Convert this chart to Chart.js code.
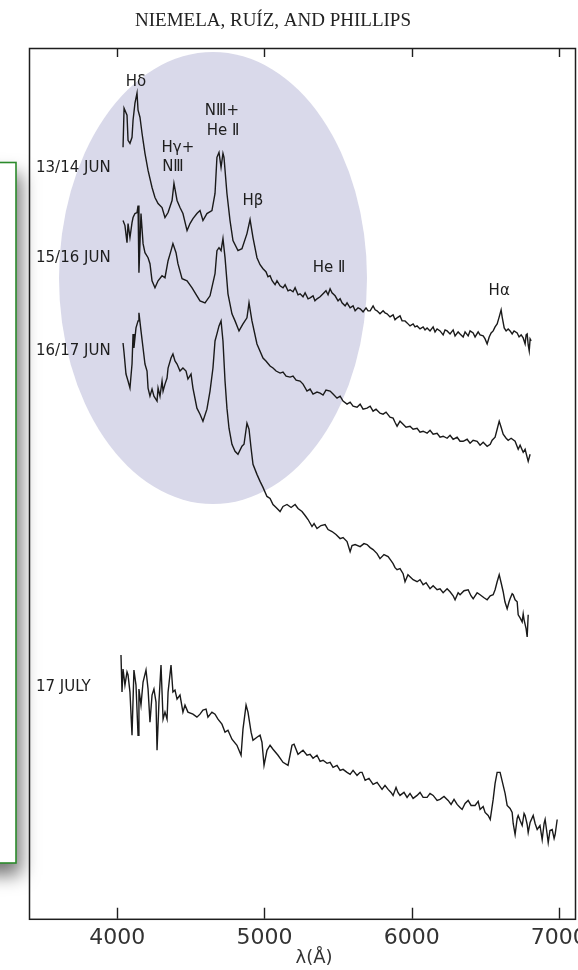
<!DOCTYPE html>
<html><head><meta charset="utf-8">
<script src="https://cdn.jsdelivr.net/npm/chart.js@4.4.1/dist/chart.umd.min.js"></script>
<style>html,body{margin:0;padding:0;background:#fff}#c{display:block}</style>
</head><body>
<canvas id="c" width="578" height="970"></canvas>
<script>
// ---- data (wavelength in Angstrom, flux in arbitrary units incl. vertical offsets) ----
const seriesNames = ["13/14 JUN", "15/16 JUN", "16/17 JUN", "17 JULY"];
const xTicks = [4000, 5000, 6000, 7000];

const lamJun13 = [4039,4046,4066,4073,4086,4100,4107,4120,4134,4141,4154,4168,4175,4188,4209,4236,4256,4277,4304,4324,4345,4372,4385,4406,4426,4446,4474,4494,4514,4541,4562,4582,4609,4643,4664,4677,4691,4705,4718,4725,4745,4766,4786,4820,4847,4881,4902,4922,4949,4970,
4990,5010,5024,5038,5052,5072,5085,5106,5126,5140,5160,5174,5194,5208,5228,5242,5262,5276,5296,5310,5330,5343,5357,5378,5398,5418,5432,5446,5459,5480,5500,5514,5527,5548,5561,5582,5602,5616,5636,5650,5670,5690,5704,5718,5738,5752,5765,5785,5806,5819,5833,5853,5874,5887,5901,5921,5935,5955,5969,5989,6010,6023,6037,6057,6078,6091,6105,6125,6146,6159,6173,6193,6214,6227,6241,6261,6282,6295,6316,6329,6350,6363,6384,6397,6418,6431,6452,6465,6486,6499,6513,6527,6540,6554,6567,6581,6595,6608,6615,6629,6642,6656,6669,6683,6696,6717,6730,6744,6758,6771,6778,6785,6792,6799,6805,6812];
const fluxJun13 = [769,808,801,776,773,779,796,813,823,806,799,783,776,763,746,729,719,713,709,699,704,716,733,716,709,703,686,693,698,703,706,696,703,706,723,759,764,749,763,759,723,696,676,666,668,683,697,679,659,652,
648,645,640,641,636,632,636,631,629,632,626,627,625,629,622,623,620,624,618,619,621,616,618,620,623,626,622,628,624,621,616,618,614,611,614,609,611,606,609,608,605,609,606,606,611,607,606,603,606,604,603,600,602,597,599,601,596,596,594,591,593,590,591,588,590,587,589,586,590,585,588,586,582,587,586,583,587,581,585,583,580,585,581,586,584,580,585,582,581,578,573,580,584,586,590,593,600,607,600,589,586,588,586,583,586,584,580,582,579,573,582,583,572,566,578,576];

const lamJun15 = [4039,4052,4066,4073,4086,4100,4107,4120,4134,4141,4147,4161,4175,4188,4209,4222,4236,4256,4277,4304,4324,4345,4365,4378,4399,4412,4440,4474,4508,4541,4562,4596,4630,4664,4677,4691,4705,4718,4732,4752,4779,4800,4827,4854,4881,4895,4915,4949,
4990,5010,5038,5058,5079,5106,5126,5147,5174,5194,5215,5242,5262,5289,5310,5330,5357,5378,5398,5418,5446,5466,5493,5514,5534,5561,5582,5602,5629,5650,5670,5697,5718,5738,5758,5785,5806,5826,5853,5874,5887,5901,5921,5942,5962,5989,6010,6037,6057,6078,6105,6125,6146,6173,6193,6214,6241,6261,6282,6309,6329,6350,6377,6397,6418,6445,6465,6486,6513,6534,6547,6567,6581,6595,6608,6622,6642,6656,6676,6703,6724,6737,6758,6771,6785,6792,6805];
const fluxJun15 = [696,691,674,693,679,694,699,703,704,711,644,703,673,664,659,653,636,629,636,641,639,656,666,673,664,653,638,636,629,621,616,614,621,643,666,669,666,678,659,623,603,596,586,593,599,614,596,573,
559,556,551,549,546,544,545,541,540,541,537,536,533,526,528,523,525,524,522,527,526,523,519,521,516,513,515,511,510,513,508,509,511,506,508,504,503,505,500,499,495,491,496,493,490,491,488,489,485,486,484,487,483,484,480,481,479,482,478,480,476,476,478,474,477,476,472,475,471,473,477,480,488,496,490,483,479,477,479,476,468,472,465,468,460,456,463];

const lamJun16 = [4039,4046,4059,4073,4086,4100,4107,4113,4127,4141,4147,4161,4175,4188,4202,4209,4222,4236,4249,4270,4277,4290,4304,4311,4324,4338,4345,4365,4378,4392,4406,4426,4446,4467,4480,4501,4514,4541,4562,4582,4609,4630,4650,4664,4677,4691,4705,4718,4732,4745,4759,4779,4800,4820,4847,4861,4881,4895,4909,4922,4949,4970,
4990,5017,5038,5058,5079,5106,5126,5153,5181,5208,5228,5255,5276,5296,5323,5337,5357,5384,5412,5432,5459,5486,5514,5534,5561,5582,5595,5616,5650,5676,5697,5718,5738,5765,5785,5812,5840,5860,5874,5887,5901,5921,5942,5955,5975,5989,6010,6037,6057,6078,6098,6125,6146,6173,6193,6214,6241,6261,6282,6295,6316,6329,6356,6384,6403,6418,6445,6465,6492,6513,6534,6554,6567,6581,6595,6608,6622,6634,6649,6662,6669,6683,6690,6703,6717,6724,6737,6751,6758,6764,6778,6785,6792];
const fluxJun16 = [574,564,543,536,529,553,583,569,589,596,604,586,569,553,546,529,521,528,521,516,529,521,536,526,533,539,549,559,563,556,553,546,549,546,538,543,529,509,503,496,508,526,549,576,583,591,596,576,536,509,489,473,466,463,471,473,494,488,469,453,443,436,
430,421,419,413,410,406,411,413,410,413,409,406,402,398,391,394,389,392,393,388,386,383,379,380,376,366,372,373,371,374,373,370,368,364,359,363,361,357,354,350,348,349,344,336,343,341,338,336,338,333,335,329,332,328,329,325,329,326,322,318,325,323,327,328,322,319,325,323,320,318,322,323,328,336,343,335,326,316,309,316,319,324,323,318,316,303,300,296,304,298,289,281,303];

const lamJul17 = [4025,4032,4039,4052,4066,4073,4086,4100,4113,4127,4141,4147,4161,4175,4195,4209,4222,4236,4249,4263,4270,4283,4297,4311,4324,4338,4345,4365,4378,4392,4406,4426,4446,4460,4480,4514,4541,4562,4582,4603,4616,4643,4664,4684,4711,4732,4752,4779,4813,4841,4854,4875,4888,4909,4922,4949,4970,4983,4997,5017,5038,5058,5092,5126,5160,5187,5201,5228,
5262,5289,5310,5330,5357,5378,5398,5425,5446,5466,5493,5514,5534,5561,5582,5602,5629,5650,5663,5684,5710,5738,5765,5799,5819,5840,5860,5874,5894,5907,5921,5948,5969,5989,6010,6037,6057,6078,6105,6125,6146,6173,6193,6220,6248,6268,6288,6309,6329,6343,6363,6384,6404,6431,6452,6465,6486,6499,6520,6534,6554,6567,6581,6601,6622,6635,6649,6669,6683,6690,6703,6717,6724,6737,6751,6764,6771,6785,6792,6805,6826,6839,6853,6872,6887,6900,6907,6920,6928,6940,6955,6968,6975,6989];
const fluxJul17 = [263,226,249,233,246,243,226,183,248,233,183,229,213,236,248,229,196,223,229,216,168,216,253,199,206,199,226,253,226,228,219,223,206,213,206,204,201,204,208,209,201,206,204,199,194,186,188,179,173,163,189,213,206,186,178,181,183,176,153,168,173,169,163,156,153,173,174,164,
168,163,164,160,163,157,158,155,156,151,153,148,149,146,144,148,143,146,146,138,140,134,136,129,133,129,126,123,131,126,123,126,121,125,120,123,126,121,121,125,123,118,119,122,118,114,119,114,111,109,115,118,113,113,117,109,112,106,103,99,119,135,146,146,133,125,113,110,106,95,84,100,103,98,93,105,103,94,86,96,103,95,89,93,79,95,99,85,76,88,89,80,84,99];

const lamSets = [lamJun13, lamJun15, lamJun16, lamJul17];
const fluxSets = [fluxJun13, fluxJun15, fluxJun16, fluxJul17];

// line identifications (text, wavelength, flux-level)
const lineIds = [
  ["H\u03B4", 4127, 834],
  ["N\u2162+", 4711, 805],
  ["He \u2161", 4718, 785],
  ["H\u03B3+", 4412, 768],
  ["N\u2162", 4378, 749],
  ["H\u03B2", 4922, 715],
  ["He \u2161", 5439, 649],
  ["H\u03B1", 6595, 626]
];
// flux level at which each date label sits
const seriesLabelLevel = [748, 659, 566, 231];

const headerText = "NIEMELA, RU\u00CDZ, AND PHILLIPS";

// ---- drawing ----
const decor = {
  id: 'decor',
  beforeDraw(chart) {
    const c = chart.ctx;
    c.save();
    c.fillStyle = '#fff';
    c.fillRect(0, 0, chart.width, chart.height);
    // green framed box with drop shadow at the left edge
    c.shadowColor = 'rgba(0,0,0,0.55)';
    c.shadowBlur = 18;
    c.shadowOffsetX = 5;
    c.shadowOffsetY = 12;
    c.fillStyle = '#fff';
    c.fillRect(-30, 162, 46, 701);
    c.shadowColor = 'transparent';
    c.strokeStyle = '#2b8a2b';
    c.lineWidth = 1.6;
    c.strokeRect(-30, 162.5, 46, 700.5);
    // running header
    c.fillStyle = '#222';
    c.font = '19px "Liberation Serif"';
    c.textAlign = 'center';
    c.textBaseline = 'middle';
    c.fillText(headerText, 273, 21);
    c.restore();
  },
  beforeDatasetsDraw(chart) {
    const c = chart.ctx, a = chart.chartArea, xs = chart.scales.x;
    c.save();
    // lavender highlight ellipse
    c.fillStyle = '#d9d9ea';
    c.beginPath();
    c.ellipse(213, 278, 154, 226, 0, 0, Math.PI * 2);
    c.fill();
    // frame
    c.strokeStyle = '#1e1e1e';
    c.lineWidth = 1.5;
    c.strokeRect(a.left + 0.5, a.top + 0.5, a.right - a.left, a.bottom - a.top);
    // inward tick marks top and bottom
    c.lineWidth = 1.4;
    xTicks.forEach(v => {
      const px = Math.round(xs.getPixelForValue(v)) + 0.5;
      c.beginPath();
      c.moveTo(px, a.bottom); c.lineTo(px, a.bottom - 11);
      c.moveTo(px, a.top); c.lineTo(px, a.top + 9);
      c.stroke();
    });
    // axis title
    c.fillStyle = '#333';
    c.font = '18px "DejaVu Sans"';
    c.textAlign = 'center';
    c.textBaseline = 'middle';
    c.fillText('\u03BB(\u00C5)', 314, 958);
    c.restore();
  },
  afterDatasetsDraw(chart) {
    const c = chart.ctx, xs = chart.scales.x, ys = chart.scales.y;
    c.save();
    c.fillStyle = '#1e1e1e';
    c.textAlign = 'center';
    c.textBaseline = 'middle';
    c.font = '15px "DejaVu Sans"';
    lineIds.forEach(([t, l, f]) => c.fillText(t, xs.getPixelForValue(l), ys.getPixelForValue(f)));
    c.textAlign = 'left';
    c.font = '15px "DejaVu Sans"';
    seriesNames.forEach((n, i) => c.fillText(n, 36, ys.getPixelForValue(seriesLabelLevel[i])));
    c.restore();
  }
};

const datasets = seriesNames.map((name, i) => ({
  label: name,
  data: lamSets[i].map((l, j) => ({ x: l, y: fluxSets[i][j] })),
  borderColor: '#1a1a1a',
  borderWidth: 1.4,
  pointRadius: 0,
  fill: false,
  tension: 0
}));

new Chart(document.getElementById('c'), {
  type: 'line',
  data: { datasets },
  options: {
    responsive: false,
    animation: false,
    layout: { padding: { left: 29, right: 3, top: 48, bottom: 12.8 }, autoPadding: false },
    plugins: { legend: { display: false }, tooltip: { enabled: false }, title: { display: false } },
    scales: {
      x: {
        type: 'linear', min: 3400, max: 7110,
        afterBuildTicks: (axis) => { axis.ticks = xTicks.map(v => ({ value: v })); },
        afterFit: (axis) => { axis.paddingLeft = 0; axis.paddingRight = 0; },
        grid: { display: false, drawTicks: false },
        border: { display: false },
        ticks: { font: { family: 'DejaVu Sans', size: 22 }, color: '#333', padding: 6, maxRotation: 0, autoSkip: false, callback: v => String(v) }
      },
      y: { display: false, min: 0, max: 868 }
    }
  },
  plugins: [decor]
});
</script>
</body></html>
